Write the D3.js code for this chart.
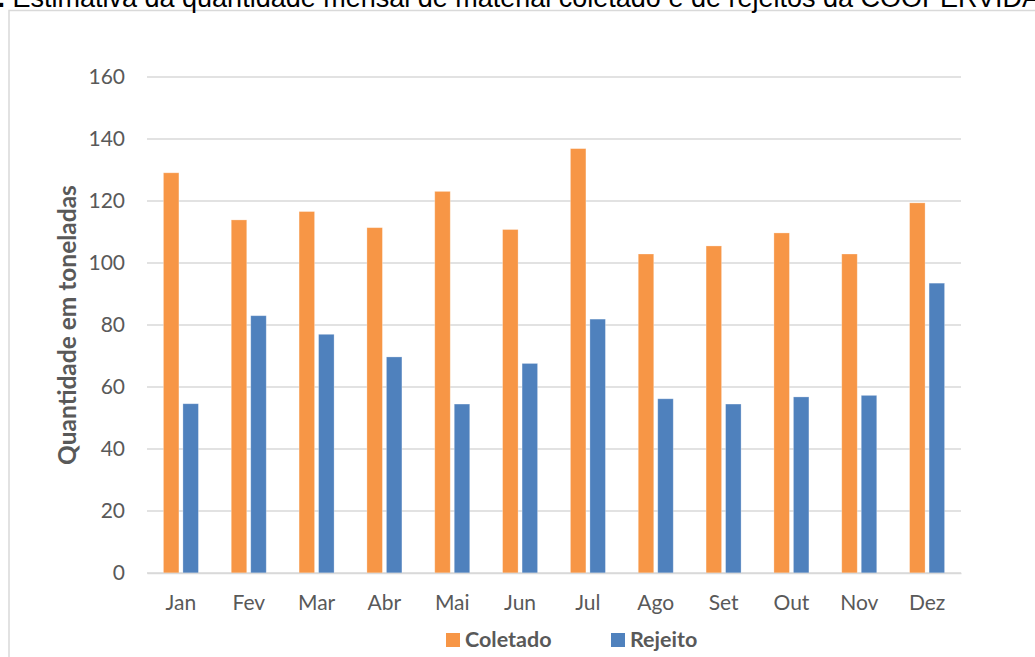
<!DOCTYPE html>
<html>
<head>
<meta charset="utf-8">
<script src="https://cdn.jsdelivr.net/npm/d3@7"></script>
<style>
  html, body { margin: 0; padding: 0; background: #fff; overflow: hidden; }
  svg { display: block; }
</style>
</head>
<body>
<svg id="chart" width="1035" height="657"></svg>
<script>
// data
var meses    = ["Jan", "Fev", "Mar", "Abr", "Mai", "Jun", "Jul", "Ago", "Set", "Out", "Nov", "Dez"];
var coletado = [129.1, 113.9, 116.6, 111.4, 123.1, 110.8, 136.9, 102.9, 105.5, 109.7, 102.9, 119.4];
var rejeito  = [54.6, 83.0, 77.0, 69.7, 54.5, 67.6, 81.9, 56.2, 54.5, 56.8, 57.3, 93.5];
var yTicks   = [0, 20, 40, 60, 80, 100, 120, 140, 160];
var series   = ["Coletado", "Rejeito"];
var cores    = ["#F79646", "#4F81BD"];

var svg = d3.select("#chart");
var textColor = "#595959", gridColor = "#D9D9D9";
var font = "Lato, 'Open Sans', sans-serif";

// outer frame of the chart (continues past the right and bottom edges)
svg.append("rect")
  .attr("x", 9).attr("y", 10.5)
  .attr("width", 1100).attr("height", 700)
  .attr("fill", "none")
  .attr("stroke", gridColor)
  .attr("stroke-width", 1.5);

// caption, cut by the top of the picture
var cap = svg.append("text")
  .attr("y", 7)
  .attr("font-family", "'Liberation Sans', Arial, sans-serif")
  .attr("font-size", 27)
  .attr("fill", "#000");
var capBold = cap.append("tspan").attr("font-weight", "bold").text("Figura 2.");
cap.append("tspan").text(" Estimativa da quantidade mensal de material coletado e de rejeitos da COOPERVIDA");
var boldW = capBold.node().getComputedTextLength();
cap.attr("x", 5 - boldW);

// plot area
var plot = {left: 147, right: 961, top: 77, bottom: 573};

var x = d3.scaleBand().domain(meses).range([plot.left, plot.right]);
var y = d3.scaleLinear().domain([0, 160]).range([plot.bottom, plot.top]);

var barW = 15.5, barGap = 4;

// gridlines
svg.append("g")
  .selectAll("line")
  .data(yTicks)
  .enter()
  .append("line")
    .attr("x1", plot.left).attr("x2", plot.right)
    .attr("y1", function(d) { return y(d); })
    .attr("y2", function(d) { return y(d); })
    .attr("stroke", gridColor)
    .attr("stroke-width", 1.5);

// y tick labels
var yAxis = d3.axisLeft(y).tickValues(yTicks).tickSize(0).tickPadding(22);
var gy = svg.append("g")
  .attr("transform", "translate(" + plot.left + ",0)")
  .call(yAxis);
gy.select(".domain").remove();
gy.selectAll("text")
  .attr("font-family", font)
  .attr("font-size", 21)
  .attr("fill", textColor);

// bars
var groups = [coletado, rejeito];
groups.forEach(function(vals, s) {
  svg.append("g")
    .selectAll("rect")
    .data(vals)
    .enter()
    .append("rect")
      .attr("x", function(d, i) {
        var c = x(meses[i]) + x.bandwidth() / 2;
        return s === 0 ? c - barGap / 2 - barW : c + barGap / 2;
      })
      .attr("y", function(d) { return y(d); })
      .attr("width", barW)
      .attr("height", function(d) { return y(0) - y(d); })
      .attr("fill", cores[s])
      .attr("stroke", "#fff")
      .attr("stroke-opacity", 0.35)
      .attr("stroke-width", 0.8);
});

// x axis line and labels
var xAxis = d3.axisBottom(x).tickSize(0).tickPadding(22);
var gx = svg.append("g")
  .attr("transform", "translate(0," + plot.bottom + ")")
  .call(xAxis);
gx.select(".domain")
  .attr("stroke", gridColor)
  .attr("stroke-width", 1.5);
gx.selectAll("text")
  .attr("font-family", font)
  .attr("font-size", 21)
  .attr("fill", textColor);

// y axis title
svg.append("text")
  .attr("transform", "translate(76," + ((plot.top + plot.bottom) / 2) + ") rotate(-90)")
  .attr("text-anchor", "middle")
  .attr("font-family", font)
  .attr("font-weight", "bold")
  .attr("font-size", 24.5)
  .attr("fill", textColor)
  .text("Quantidade em toneladas");

// legend
var legendX = [446, 611];
var legend = svg.append("g")
  .selectAll("g")
  .data(series)
  .enter()
  .append("g")
    .attr("transform", function(d, i) { return "translate(" + legendX[i] + ",633)"; });
legend.append("rect")
  .attr("width", 14).attr("height", 14)
  .attr("fill", function(d, i) { return cores[i]; });
legend.append("text")
  .attr("x", 19).attr("y", 13.5)
  .attr("font-family", font)
  .attr("font-weight", "bold")
  .attr("font-size", 21.5)
  .attr("fill", textColor)
  .text(function(d) { return d; });
</script>
</body>
</html>
